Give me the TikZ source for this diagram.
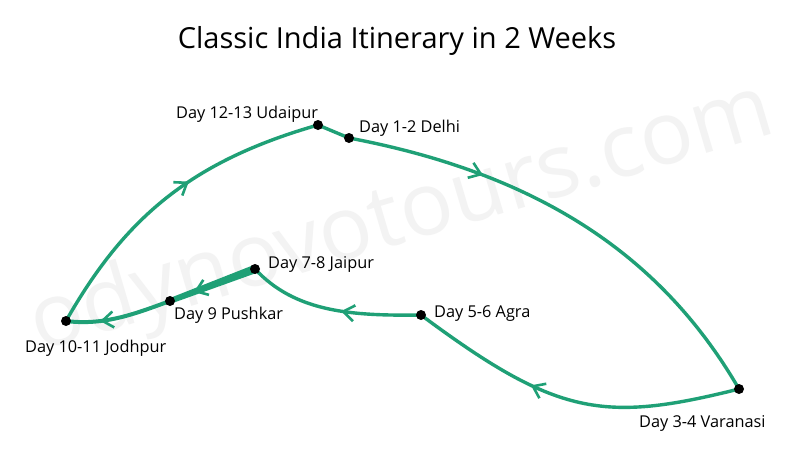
\documentclass[tikz,border=0pt]{standalone}
\usepackage{fontspec}
\setmainfont{Open Sans}
\usetikzlibrary{arrows.meta,decorations.markings,calc}
\definecolor{route}{RGB}{31,160,118}
\definecolor{wm}{RGB}{243,243,243}
\begin{document}
\begin{tikzpicture}[x=1pt,y=-1pt,
  dot/.style={circle,fill=black,minimum size=10pt,inner sep=0pt},
  lbl/.style={anchor=base west,inner sep=0pt,font=\fontsize{16.3}{18}\selectfont},
  routeline/.style={draw=route,line width=3.4pt,line cap=round},
  arrowat/.style={postaction={decorate,decoration={markings,
    mark=at position #1 with {\arrow[line width=2.6pt,route]{Straight Barb[length=11pt,width=16pt]}}}}}]
\fill[white] (0,0) rectangle (800,450);
\useasboundingbox (0,0) rectangle (800,450);
% watermark
\node[rotate=16.5, text=wm, inner sep=0pt, font=\fontsize{88}{88}\selectfont] (wmk) at (402,220) {odynovotours.com};
% title
\node[anchor=base, inner sep=0pt, font=\fontsize{29}{33}\selectfont] (title) at (397,48) {Classic India Itinerary in 2 Weeks};
% stops
\coordinate (uda) at (318,125);
\coordinate (del) at (349,138);
\coordinate (var) at (739,389);
\coordinate (agr) at (421,315);
\coordinate (jai) at (255,269);
\coordinate (pus) at (170,301);
\coordinate (jod) at (66,321);
% routes
\draw[routeline, arrowat=0.29] (del) .. controls (545,175) and (664,260) .. (var);
\draw[routeline, arrowat=0.62] (var) .. controls (603,423) and (557,416) .. (agr);
\draw[routeline, arrowat=0.45] (agr) .. controls (351,316) and (295,312) .. (jai);
\fill[route] ($(jai)!4.2pt!90:(pus)$) -- ($(pus)!2.8pt!-90:(jai)$) -- ($(pus)!2.8pt!90:(jai)$) -- ($(jai)!4.2pt!-90:(pus)$) -- cycle;
\draw[routeline, arrowat=0.72] (jai) -- (pus);
\draw[routeline, line width=4pt, arrowat=0.68] (pus) .. controls (137,313) and (105,326) .. (jod);
\draw[routeline, arrowat=0.57] (jod) .. controls (125,217) and (192,161) .. (uda);
\draw[routeline] (uda) -- (del);
% dots
\foreach \p in {uda,del,var,agr,jai,pus,jod} \node[dot] (d\p) at (\p) {};
% labels
\node[lbl] (luda) at (176,118) {Day 12-13 Udaipur};
\node[lbl] (ldel) at (359,132) {Day 1-2 Delhi};
\node[lbl] (ljai) at (268,268) {Day 7-8 Jaipur};
\node[lbl] (lpus) at (174,319) {Day 9 Pushkar};
\node[lbl] (ljod) at (25,352) {Day 10-11 Jodhpur};
\node[lbl] (lagr) at (434,317) {Day 5-6 Agra};
\node[lbl] (lvar) at (639,427) {Day 3-4 Varanasi};
\end{tikzpicture}
\end{document}
